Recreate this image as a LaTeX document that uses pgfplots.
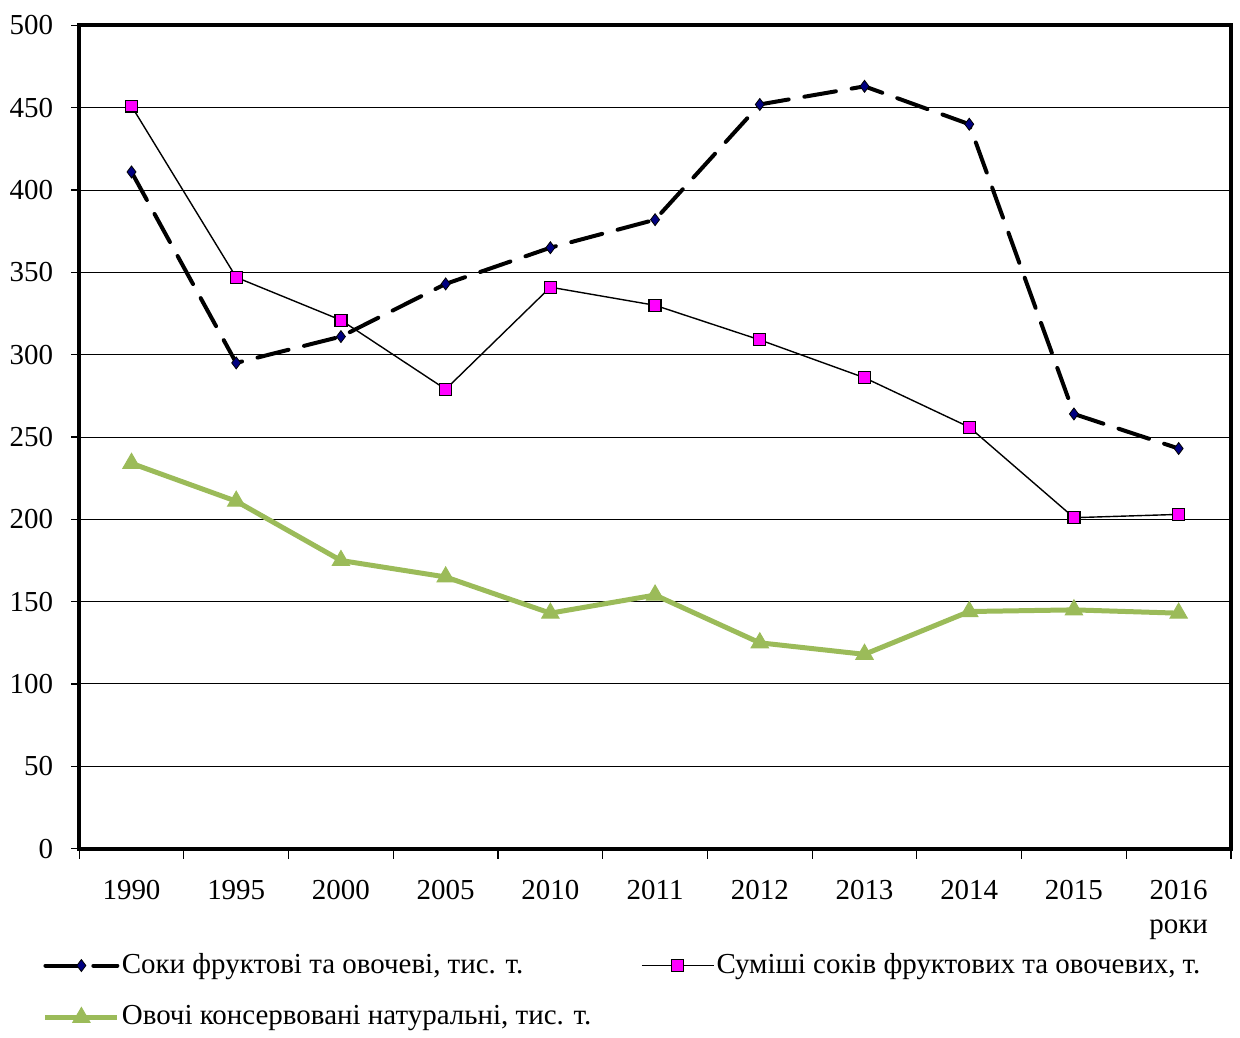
\documentclass[border=0pt]{standalone}
\usepackage{fontspec}
\setmainfont{Liberation Serif}
\usepackage{pgfplots}
\pgfplotsset{compat=1.18}
\definecolor{navyd}{HTML}{000080}
\definecolor{mag}{HTML}{FF00FF}
\definecolor{grn}{HTML}{9BBB59}
\begin{document}
\fontsize{14.5}{17}\selectfont
\begin{tikzpicture}
\begin{axis}[
  width=576.5pt, height=412pt, scale only axis,
  xmin=-0.5, xmax=10.5, ymin=0, ymax=500,
  xtick={0,...,10},
  xticklabels={1990,1995,2000,2005,2010,2011,2012,2013,2014,2015,{2016\\роки}},
  minor xtick={-0.5,0.5,...,10.5},
  ytick={0,50,...,500},
  xtick pos=bottom, ytick pos=left,
  tick align=outside,
  major tick length=4pt, minor tick length=5pt,
  major x tick style={draw=none},
  minor x tick style={black, line width=0.6pt},
  major y tick style={black, line width=0.6pt},
  x tick label style={align=center, yshift=-7pt, font=\fontsize{14.5}{17}\selectfont},
  y tick label style={xshift=-4pt, font=\fontsize{14.5}{17}\selectfont},
  /pgf/number format/assume math mode=true,
  /pgf/number format/1000 sep={},
  ymajorgrids, major grid style={black, line width=0.5pt},
  axis line style={line width=2pt},
  legend columns=2,
  legend style={at={(-0.037,-0.117)}, anchor=north west, draw=none, fill=none,
    font=\fontsize{14.5}{17}\selectfont, row sep=10pt,
    nodes={inner xsep=1pt},
    /tikz/column 2/.style={column sep=24pt}},
  legend cell align=left,
  legend image code/.code={
    \draw[#1,mark repeat=2,mark phase=2] plot coordinates {(0pt,0pt) (18pt,0pt) (36pt,0pt)};
  },
]
\addplot[black, line width=2pt, dash pattern=on 16pt off 8pt, line cap=round,
  mark=diamond*, mark size=3pt, mark options={solid, fill=navyd, draw=black, line width=0.4pt}]
  coordinates {(0,411) (1,295) (2,311) (3,343) (4,365) (5,382) (6,452) (7,463) (8,440) (9,264) (10,243)};
\addlegendentry{Соки фруктові та овочеві, тис. т.}
\addplot[black, line width=0.7pt,
  mark=square*, mark size=3pt, mark options={fill=mag, draw=black, line width=0.6pt}]
  coordinates {(0,451) (1,347) (2,321) (3,279) (4,341) (5,330) (6,309) (7,286) (8,256) (9,201) (10,203)};
\addlegendentry{Суміші соків фруктових та овочевих, т.}
\addplot[grn, line width=2.5pt,
  mark=triangle*, mark size=5pt, mark options={fill=grn, draw=grn, line width=0.5pt}]
  coordinates {(0,234) (1,211) (2,175) (3,165) (4,143) (5,154) (6,125) (7,118) (8,144) (9,145) (10,143)};
\addlegendentry{Овочі консервовані натуральні, тис. т.}
\end{axis}
\useasboundingbox (current bounding box.south west) rectangle ([shift={(3.5pt,3pt)}]current bounding box.north east);
\end{tikzpicture}
\end{document}
